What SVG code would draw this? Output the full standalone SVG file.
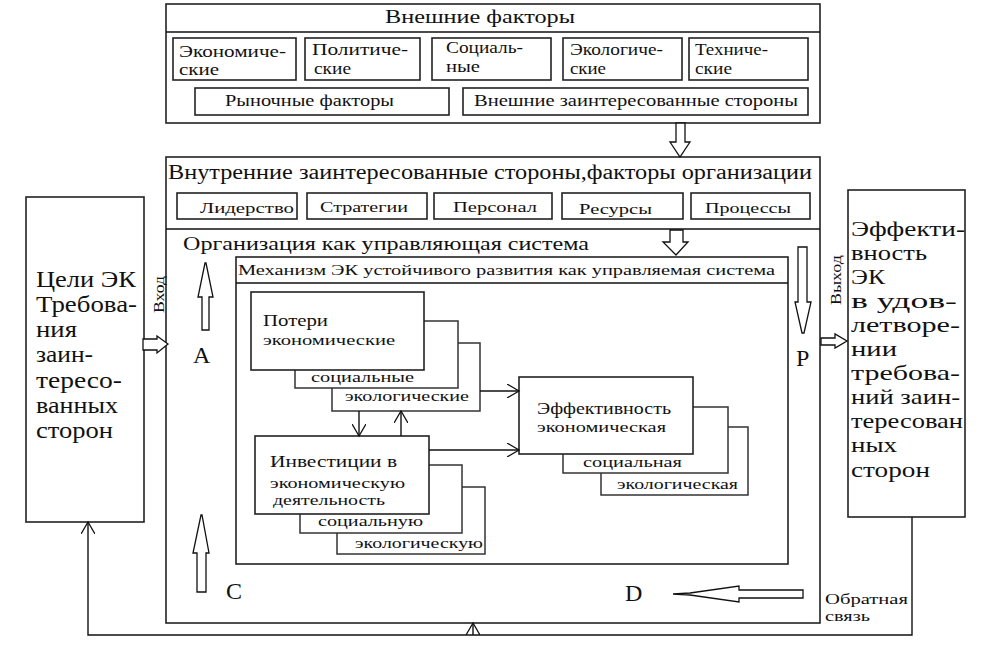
<svg xmlns="http://www.w3.org/2000/svg" width="984" height="649" viewBox="0 0 984 649" font-family="Liberation Serif, DejaVu Serif, serif">
<defs>
<style>
text{font-family:"Liberation Serif","DejaVu Serif",serif;fill:#111}
.bx{fill:#fff;stroke:#222;stroke-width:1.6}
.bk{fill:#fff;stroke:#333;stroke-width:1.5}
.ln{fill:none;stroke:#111;stroke-width:1.4}
.ha{fill:#fff;stroke:#111;stroke-width:1.3}
.s15{font-size:15px}
.s16{font-size:16px}
.s17{font-size:17px}
</style>
<marker id="v" markerUnits="userSpaceOnUse" markerWidth="14" markerHeight="14" refX="12" refY="7" orient="auto">
<path d="M0,0 L12,7 L0,14" fill="none" stroke="#111" stroke-width="1.3"/>
</marker>
</defs>
<rect width="984" height="649" fill="#fff"/>

<g id="external">
<rect class="bx" x="166" y="4" width="654" height="119" stroke-width="2"/>
<line class="ln" x1="166" y1="32" x2="820" y2="32"/>
<text x="385" y="23" font-size="18" textLength="190" lengthAdjust="spacingAndGlyphs">Внешние факторы</text>
<rect class="bx" x="173" y="38" width="123" height="42"/>
<text class="s16" x="179" y="57" textLength="107" lengthAdjust="spacingAndGlyphs">Экономиче-</text>
<text class="s16" x="179" y="75" textLength="40" lengthAdjust="spacingAndGlyphs">ские</text>
<rect class="bx" x="305" y="38" width="115" height="42"/>
<text class="s16" x="312" y="55" textLength="96" lengthAdjust="spacingAndGlyphs">Политиче-</text>
<text class="s16" x="314" y="74" textLength="37" lengthAdjust="spacingAndGlyphs">ские</text>
<rect class="bx" x="432" y="38" width="119" height="42"/>
<text class="s16" x="446" y="53" textLength="77" lengthAdjust="spacingAndGlyphs">Социаль-</text>
<text class="s16" x="446" y="72" textLength="34" lengthAdjust="spacingAndGlyphs">ные</text>
<rect class="bx" x="563" y="38" width="119" height="42"/>
<text class="s16" x="570" y="55" textLength="93" lengthAdjust="spacingAndGlyphs">Экологиче-</text>
<text class="s16" x="570" y="74" textLength="36" lengthAdjust="spacingAndGlyphs">ские</text>
<rect class="bx" x="689" y="38" width="119" height="42"/>
<text class="s16" x="695" y="55" textLength="73" lengthAdjust="spacingAndGlyphs">Техниче-</text>
<text class="s16" x="695" y="74" textLength="37" lengthAdjust="spacingAndGlyphs">ские</text>
<rect class="bx" x="195" y="88" width="254" height="27"/>
<text class="s16" x="225" y="106" textLength="169" lengthAdjust="spacingAndGlyphs">Рыночные факторы</text>
<rect class="bx" x="463" y="88" width="345" height="27"/>
<text class="s16" x="474" y="106" textLength="324" lengthAdjust="spacingAndGlyphs">Внешние заинтересованные стороны</text>
</g>

<g id="organization">
<rect class="bx" x="166" y="157" width="654" height="466"/>
<line class="ln" x1="166" y1="229" x2="820" y2="229"/>
<text x="168" y="179" font-size="20" textLength="644" lengthAdjust="spacingAndGlyphs">Внутренние заинтересованные стороны,факторы организации</text>
<rect class="bx" x="177" y="193" width="120" height="26"/>
<text class="s15" x="200" y="213" textLength="94" lengthAdjust="spacingAndGlyphs">Лидерство</text>
<rect class="bx" x="307" y="193" width="120" height="26"/>
<text class="s15" x="320" y="212" textLength="88" lengthAdjust="spacingAndGlyphs">Стратегии</text>
<rect class="bx" x="434" y="193" width="118" height="26"/>
<text class="s15" x="453" y="212" textLength="84" lengthAdjust="spacingAndGlyphs">Персонал</text>
<rect class="bx" x="562" y="193" width="121" height="26"/>
<text class="s15" x="579" y="214" textLength="73" lengthAdjust="spacingAndGlyphs">Ресурсы</text>
<rect class="bx" x="691" y="193" width="119" height="26"/>
<text class="s15" x="705" y="213" textLength="86" lengthAdjust="spacingAndGlyphs">Процессы</text>
<text x="183" y="250" font-size="19" textLength="406" lengthAdjust="spacingAndGlyphs">Организация как управляющая система</text>
<text x="193" y="363" font-size="24">A</text>
<text x="796" y="366" font-size="24">P</text>
<text x="226" y="599" font-size="24">C</text>
<text x="625" y="601" font-size="24">D</text>
</g>

<g id="mechanism">
<rect class="bx" x="236" y="257" width="552" height="307"/>
<line class="ln" x1="236" y1="283" x2="788" y2="283"/>
<text class="s15" x="238" y="275" textLength="537" lengthAdjust="spacingAndGlyphs">Механизм ЭК устойчивого развития как управляемая система</text>
</g>

<g id="losses">
<rect class="bk" x="332" y="343" width="148" height="68"/>
<rect class="bk" x="295" y="321" width="163" height="67"/>
<rect class="bx" x="251" y="292" width="173" height="78"/>
<text class="s17" x="263" y="326" textLength="65" lengthAdjust="spacingAndGlyphs">Потери</text>
<text class="s15" x="263" y="345" textLength="132" lengthAdjust="spacingAndGlyphs">экономические</text>
<text class="s15" x="311" y="382" textLength="103" lengthAdjust="spacingAndGlyphs">социальные</text>
<text class="s15" x="345" y="401" textLength="124" lengthAdjust="spacingAndGlyphs">экологические</text>
</g>

<g id="investments">
<rect class="bk" x="337" y="487" width="148" height="67"/>
<rect class="bk" x="300" y="465" width="162" height="68"/>
<rect class="bx" x="255" y="436" width="174" height="78"/>
<text class="s16" x="270" y="467" textLength="127" lengthAdjust="spacingAndGlyphs">Инвестиции  в</text>
<text class="s15" x="270" y="488" textLength="135" lengthAdjust="spacingAndGlyphs">экономическую</text>
<text class="s15" x="273" y="505" textLength="112" lengthAdjust="spacingAndGlyphs">деятельность</text>
<text class="s15" x="318" y="526" textLength="105" lengthAdjust="spacingAndGlyphs">социальную</text>
<text class="s15" x="355" y="548" textLength="128" lengthAdjust="spacingAndGlyphs">экологическую</text>
</g>

<g id="efficiency">
<rect class="bk" x="601" y="427" width="147" height="68"/>
<rect class="bk" x="563" y="407" width="165" height="66"/>
<rect class="bx" x="519" y="377" width="174" height="77"/>
<text class="s17" x="537" y="414" textLength="134" lengthAdjust="spacingAndGlyphs">Эффективность</text>
<text class="s15" x="537" y="432" textLength="129" lengthAdjust="spacingAndGlyphs">экономическая</text>
<text class="s15" x="583" y="467" textLength="99" lengthAdjust="spacingAndGlyphs">социальная</text>
<text class="s15" x="617" y="489" textLength="121" lengthAdjust="spacingAndGlyphs">экологическая</text>
</g>

<g id="goals">
<rect class="bx" x="26" y="197" width="118" height="325"/>
<g font-size="23">
<text x="36" y="287" textLength="100" lengthAdjust="spacingAndGlyphs">Цели ЭК</text>
<text x="36" y="312" textLength="101" lengthAdjust="spacingAndGlyphs">Требова-</text>
<text x="36" y="337" textLength="41" lengthAdjust="spacingAndGlyphs">ния</text>
<text x="36" y="362" textLength="57" lengthAdjust="spacingAndGlyphs">заин-</text>
<text x="36" y="388" textLength="86" lengthAdjust="spacingAndGlyphs">тересо-</text>
<text x="36" y="413" textLength="82" lengthAdjust="spacingAndGlyphs">ванных</text>
<text x="36" y="438" textLength="77" lengthAdjust="spacingAndGlyphs">сторон</text>
</g>
</g>

<g id="result">
<rect class="bx" x="848" y="190" width="117" height="327"/>
<g font-size="22">
<text x="851" y="236" textLength="114" lengthAdjust="spacingAndGlyphs">Эффекти-</text>
<text x="851" y="260" textLength="76" lengthAdjust="spacingAndGlyphs">вность</text>
<text x="851" y="284" textLength="34" lengthAdjust="spacingAndGlyphs">ЭК</text>
<text x="851" y="308" textLength="106" lengthAdjust="spacingAndGlyphs">в удов-</text>
<text x="851" y="332" textLength="109" lengthAdjust="spacingAndGlyphs">летворе-</text>
<text x="851" y="356" textLength="46" lengthAdjust="spacingAndGlyphs">нии</text>
<text x="851" y="380" textLength="109" lengthAdjust="spacingAndGlyphs">требова-</text>
<text x="851" y="404" textLength="109" lengthAdjust="spacingAndGlyphs">ний заин-</text>
<text x="851" y="428" textLength="112" lengthAdjust="spacingAndGlyphs">тересован</text>
<text x="851" y="452" textLength="46" lengthAdjust="spacingAndGlyphs">ных</text>
<text x="851" y="477" textLength="79" lengthAdjust="spacingAndGlyphs">сторон</text>
</g>
</g>

<g id="connectors">
<polygon class="ha" points="676,123 685,123 685,142 690,142 680,157 670,142 676,142"/>
<polygon class="ha" points="670,230 683,230 683,242 688,242 676,255 663,242 670,242"/>
<polygon class="ha" points="798,247 807,247 807,302 811,302 804,333 802,333 795,302 798,302"/>
<polygon class="ha" points="202,330 209,330 209,297 213,297 206,263 205,263 198,297 202,297"/>
<polygon class="ha" points="197,592 206,592 206,553 209,553 202,515 201,515 193,553 197,553"/>
<polygon class="ha" points="143,339 157,339 157,336 168,344 157,353 157,350 143,350"/>
<polygon class="ha" points="821,338 835,338 835,334 847,341 835,348 835,345 821,345"/>
<polygon class="ha" points="803,590 803,598 739,598 739,602 690,595 673,594 690,593 739,586 739,590"/>
<text font-size="15" transform="rotate(-90 164 313)" x="164" y="313" textLength="37" lengthAdjust="spacingAndGlyphs">Вход</text>
<text font-size="15" transform="rotate(-90 841 305)" x="841" y="305" textLength="50" lengthAdjust="spacingAndGlyphs">Выход</text>
<line class="ln" x1="480" y1="391" x2="519" y2="391" marker-end="url(#v)"/>
<line class="ln" x1="429" y1="450" x2="519" y2="450" marker-end="url(#v)"/>
<line class="ln" x1="359" y1="411" x2="359" y2="436" marker-end="url(#v)"/>
<line class="ln" x1="401" y1="436" x2="401" y2="411" marker-end="url(#v)"/>
<polyline class="ln" points="912,517 912,635 88,635 88,522" marker-end="url(#v)"/>
<line class="ln" x1="473" y1="635" x2="473" y2="623" marker-end="url(#v)"/>
<text class="s15" x="825" y="604" textLength="83" lengthAdjust="spacingAndGlyphs">Обратная</text>
<text class="s15" x="825" y="621" textLength="45" lengthAdjust="spacingAndGlyphs">связь</text>
</g>
</svg>
